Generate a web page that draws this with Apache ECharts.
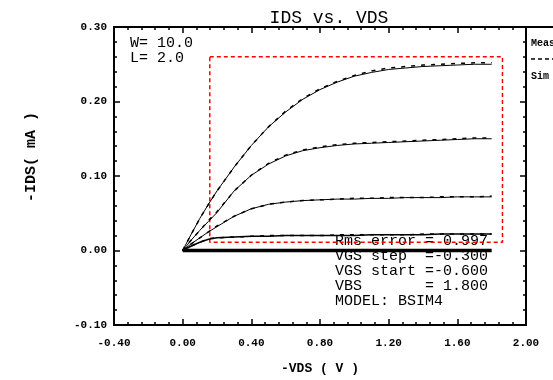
<!DOCTYPE html>
<html>
<head>
<meta charset="utf-8">
<script src="https://cdn.jsdelivr.net/npm/echarts@6/dist/echarts.min.js"></script>
<style>
  html, body { margin: 0; padding: 0; background: #fff; }
  #chart { width: 553px; height: 380px; }
</style>
</head>
<body>
<div id="chart"></div>
<script>
// -VDS sweep (V)
const vds = [0, 0.05, 0.1, 0.15, 0.2, 0.3, 0.4, 0.5, 0.6, 0.7, 0.8, 0.9, 1.0, 1.1, 1.2, 1.3, 1.4, 1.5, 1.6, 1.7, 1.8];
// simulated -IDS (mA), one array per VGS step
const simVgs1 = [0, 0, 0, 0, 0, 0, 0, 0, 0, 0, 0, 0, 0, 0, 0, 0, 0, 0, 0, 0, 0];
const simVgs2 = [0, 0.006, 0.011, 0.015, 0.017, 0.018, 0.019, 0.019, 0.020, 0.020, 0.020, 0.020, 0.020, 0.021, 0.021, 0.021, 0.021, 0.022, 0.022, 0.022, 0.022];
const simVgs3 = [0, 0.009, 0.017, 0.025, 0.032, 0.046, 0.056, 0.062, 0.065, 0.067, 0.068, 0.069, 0.069, 0.070, 0.070, 0.071, 0.071, 0.071, 0.072, 0.072, 0.072];
const simVgs4 = [0, 0.014, 0.027, 0.039, 0.051, 0.080, 0.101, 0.116, 0.127, 0.134, 0.138, 0.141, 0.143, 0.144, 0.145, 0.146, 0.147, 0.148, 0.149, 0.150, 0.150];
const simVgs5 = [0, 0.022, 0.043, 0.062, 0.080, 0.112, 0.141, 0.166, 0.186, 0.203, 0.216, 0.226, 0.234, 0.239, 0.243, 0.245, 0.247, 0.248, 0.249, 0.250, 0.250];
// measured -IDS (mA)
const meaVgs2 = [0, 0.006, 0.011, 0.016, 0.017, 0.018, 0.019, 0.020, 0.020, 0.020, 0.020, 0.021, 0.021, 0.021, 0.021, 0.021, 0.022, 0.022, 0.022, 0.022, 0.022];
const meaVgs3 = [0, 0.009, 0.017, 0.025, 0.033, 0.046, 0.056, 0.062, 0.065, 0.067, 0.068, 0.069, 0.070, 0.070, 0.071, 0.071, 0.071, 0.072, 0.072, 0.072, 0.073];
const meaVgs4 = [0, 0.014, 0.027, 0.040, 0.052, 0.080, 0.101, 0.117, 0.128, 0.135, 0.139, 0.142, 0.144, 0.145, 0.146, 0.147, 0.148, 0.149, 0.150, 0.151, 0.151];
const meaVgs5 = [0, 0.022, 0.043, 0.062, 0.080, 0.112, 0.141, 0.166, 0.187, 0.204, 0.217, 0.227, 0.235, 0.241, 0.245, 0.247, 0.249, 0.250, 0.251, 0.252, 0.252];
// fitting window (red dashed box)
const boxX = [0.158, 1.863, 1.863, 0.158, 0.158];
const boxY = [0.26, 0.26, 0.011, 0.011, 0.26];
// axis ranges
const xRange = [-0.4, 2.0, 0.4];
const yRange = [-0.1, 0.3, 0.1];

const mono = '"Liberation Mono", "DejaVu Sans Mono", monospace';
const pair = (xs, ys) => xs.map((x, i) => [x, ys[i]]);

const chartDom = document.getElementById('chart');
const myChart = echarts.init(chartDom, null, { renderer: 'canvas' });

const tickStyle = {
    axisLine: { show: true, onZero: false, lineStyle: { color: '#000', width: 2 } },
    axisTick: { show: true, inside: true, length: 6, lineStyle: { color: '#000', width: 1.5 } },
    minorTick: { show: true, splitNumber: 5, length: 3, lineStyle: { color: '#000', width: 1.5 } },
    splitLine: { show: false }
};

const simLine = (data, w) => ({
    type: 'line', data: data, symbol: 'none', silent: true,
    lineStyle: { color: '#000', width: w || 1 }
});
const meaLine = (data) => ({
    type: 'line', data: data, symbol: 'none', silent: true,
    lineStyle: { color: '#000', width: 1.5, type: [4, 6] }
});

const option = {
    animation: false,
    backgroundColor: '#fff',
    title: {
        text: 'IDS vs. VDS',
        left: 324, top: 4, textAlign: 'center',
        textStyle: { fontFamily: mono, fontSize: 18, fontWeight: 'normal', color: '#000' }
    },
    grid: { left: 114, right: 27, top: 27, bottom: 53 },
    xAxis: [
        Object.assign({
            type: 'value', min: xRange[0], max: xRange[1], interval: xRange[2],
            name: '-VDS ( V )', nameLocation: 'middle', nameGap: 37,
            nameTextStyle: { fontFamily: mono, fontSize: 13, fontWeight: 'bold', color: '#000' },
            axisLabel: { margin: 13, fontFamily: mono, fontSize: 11, fontWeight: 'bold', color: '#000',
                formatter: v => v.toFixed(2) }
        }, tickStyle),
        Object.assign({
            type: 'value', position: 'top', min: xRange[0], max: xRange[1], interval: xRange[2],
            axisLabel: { show: false }
        }, tickStyle)
    ],
    yAxis: [
        Object.assign({
            type: 'value', min: yRange[0], max: yRange[1], interval: yRange[2],
            axisLabel: { margin: 7, fontFamily: mono, fontSize: 11, fontWeight: 'bold', color: '#000',
                formatter: v => v.toFixed(2) }
        }, tickStyle),
        Object.assign({
            type: 'value', position: 'right', min: yRange[0], max: yRange[1], interval: yRange[2],
            axisLabel: { show: false }
        }, tickStyle)
    ],
    series: [
        {
            type: 'line', data: pair(boxX, boxY), symbol: 'none', silent: true,
            lineStyle: { color: '#ff0000', width: 1.5, type: [4, 3] }
        },
        simLine(pair(vds, simVgs1), 3.5),
        simLine(pair(vds, simVgs2), 1.5),
        simLine(pair(vds, simVgs3)),
        simLine(pair(vds, simVgs4)),
        simLine(pair(vds, simVgs5)),
        meaLine(pair(vds, meaVgs2)),
        meaLine(pair(vds, meaVgs3)),
        meaLine(pair(vds, meaVgs4)),
        meaLine(pair(vds, meaVgs5))
    ],
    graphic: [
        { type: 'text', x: 31, y: 157, rotation: Math.PI / 2,
          style: { text: '-IDS( mA )', font: 'bold 15px ' + mono, fill: '#000',
                   align: 'center', verticalAlign: 'middle' } },
        { type: 'text', left: 130, top: 36,
          style: { text: 'W= 10.0\nL= 2.0', font: '15px ' + mono, lineHeight: 15, fill: '#000' } },
        { type: 'text', left: 335, top: 233,
          style: { text: 'Rms error = 0.997\nVGS step  =-0.300\nVGS start =-0.600\nVBS       = 1.800\nMODEL: BSIM4',
                   font: '15px ' + mono, lineHeight: 15.2, fill: '#000' } },
        { type: 'line', shape: { x1: 527, y1: 27, x2: 553, y2: 27 },
          style: { stroke: '#000', lineWidth: 2 } },
        { type: 'text', left: 531, top: 38,
          style: { text: 'Meas', font: 'bold 10px ' + mono, fill: '#000' } },
        { type: 'line', shape: { x1: 531, y1: 59, x2: 553, y2: 59 },
          style: { stroke: '#000', lineWidth: 1.5, lineDash: [4, 3] } },
        { type: 'text', left: 531, top: 71,
          style: { text: 'Sim', font: 'bold 10px ' + mono, fill: '#000' } }
    ]
};

option && myChart.setOption(option);
</script>
</body>
</html>
